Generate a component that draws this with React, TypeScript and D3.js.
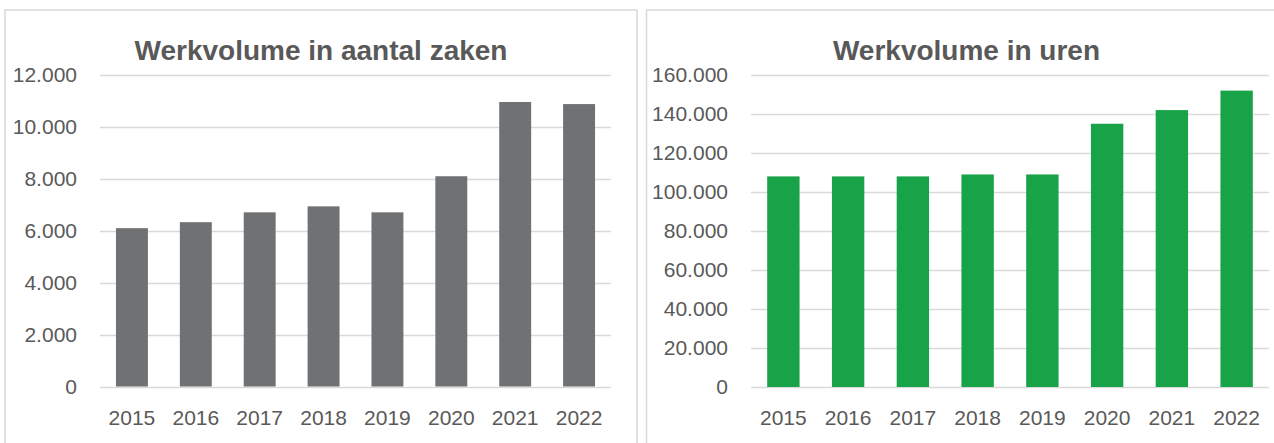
import { useEffect, useRef } from 'react';
import * as d3 from 'd3';

// Data
const YEARS = ['2015', '2016', '2017', '2018', '2019', '2020', '2021', '2022'];
const ZAKEN = [6100, 6330, 6710, 6940, 6710, 8100, 10960, 10880];
const UREN = [108000, 108000, 108000, 109000, 109000, 135000, 142000, 152000];
const ZAKEN_TICKS = [0, 2000, 4000, 6000, 8000, 10000, 12000];
const UREN_TICKS = [0, 20000, 40000, 60000, 80000, 100000, 120000, 140000, 160000];

const W = 1274;
const H = 443;
const FONT = '"Liberation Sans", Arial, sans-serif';
const TEXT = '#595959';
const GRID = '#d9d9d9';

const nl = d3.formatLocale({ decimal: ',', thousands: '.', grouping: [3], currency: ['€', ''] });
const fmt = nl.format(',');

interface PanelCfg {
  x: number;        // panel left
  w: number;        // panel width
  plotL: number;
  plotR: number;
  top: number;
  bottom: number;
  title: string;
  values: number[];
  ticks: number[];
  color: string;
}

function drawPanel(svg: d3.Selection<SVGSVGElement, unknown, null, undefined>, cfg: PanelCfg) {
  const g = svg.append('g');

  // panel frame
  g.append('rect')
    .attr('x', cfg.x).attr('y', 10)
    .attr('width', cfg.w).attr('height', H + 20)
    .attr('fill', '#fff')
    .attr('stroke', GRID).attr('stroke-width', 1.5);

  const xScale = d3.scaleBand<string>()
    .domain(YEARS)
    .range([cfg.plotL, cfg.plotR])
    .paddingInner(0.5)
    .paddingOuter(0.25);

  const yMax = cfg.ticks[cfg.ticks.length - 1];
  const yScale = d3.scaleLinear().domain([0, yMax]).range([cfg.bottom, cfg.top]);

  // title
  g.append('text')
    .attr('x', cfg.x + cfg.w / 2)
    .attr('y', 60)
    .attr('text-anchor', 'middle')
    .attr('font-family', FONT)
    .attr('font-size', 28)
    .attr('font-weight', 'bold')
    .attr('fill', TEXT)
    .text(cfg.title);

  // gridlines
  g.append('g').selectAll('line')
    .data(cfg.ticks)
    .enter().append('line')
    .attr('x1', cfg.plotL).attr('x2', cfg.plotR)
    .attr('y1', d => Math.round(yScale(d)) + 0.5)
    .attr('y2', d => Math.round(yScale(d)) + 0.5)
    .attr('stroke', GRID).attr('stroke-width', 1.5);

  // y tick labels
  g.append('g').selectAll('text')
    .data(cfg.ticks)
    .enter().append('text')
    .attr('x', cfg.plotL - 23)
    .attr('y', d => yScale(d))
    .attr('dy', '0.35em')
    .attr('text-anchor', 'end')
    .attr('font-family', FONT)
    .attr('font-size', 21)
    .attr('fill', TEXT)
    .text(d => fmt(d));

  // bars
  g.append('g').selectAll('rect')
    .data(cfg.values)
    .enter().append('rect')
    .attr('x', (_, i) => xScale(YEARS[i]) ?? 0)
    .attr('width', xScale.bandwidth())
    .attr('y', d => yScale(d))
    .attr('height', d => cfg.bottom - yScale(d))
    .attr('fill', cfg.color);

  // x labels
  g.append('g').selectAll('text')
    .data(YEARS)
    .enter().append('text')
    .attr('x', d => (xScale(d) ?? 0) + xScale.bandwidth() / 2)
    .attr('y', cfg.bottom + 38)
    .attr('text-anchor', 'middle')
    .attr('font-family', FONT)
    .attr('font-size', 21)
    .attr('fill', TEXT)
    .text(d => d);
}

export default function App() {
  const svgRef = useRef<SVGSVGElement>(null);

  useEffect(() => {
    document.body.style.margin = '0';
    if (!svgRef.current) return;
    const svg = d3.select(svgRef.current);
    svg.selectAll('*').remove();

    svg.append('rect').attr('width', W).attr('height', H).attr('fill', '#fff');

    drawPanel(svg, {
      x: 5, w: 632, plotL: 100, plotR: 611, top: 75, bottom: 386.5,
      title: 'Werkvolume in aantal zaken', values: ZAKEN, ticks: ZAKEN_TICKS, color: '#707173',
    });
    drawPanel(svg, {
      x: 646.5, w: 640, plotL: 751, plotR: 1269, top: 75, bottom: 387,
      title: 'Werkvolume in uren', values: UREN, ticks: UREN_TICKS, color: '#18a348',
    });
  }, []);

  return <svg ref={svgRef} width={W} height={H} style={{ display: 'block' }} />;
}
